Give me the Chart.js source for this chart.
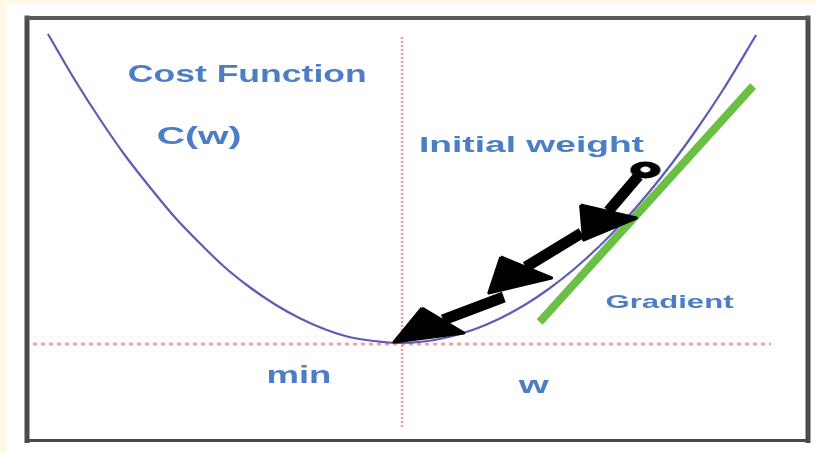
<!DOCTYPE html>
<html><head><meta charset="utf-8">
<script src="https://cdn.jsdelivr.net/npm/chart.js@4.4.0/dist/chart.umd.min.js"></script>
<style>html,body{margin:0;padding:0;background:#fdf9e5;}#wrap{position:relative;width:816px;height:453px;}#c{filter:blur(0.45px);}</style>
</head><body><div id="wrap"><canvas id="c"></canvas></div>
<script>
// Cost function C(w) (w: weight, C: cost)
const curveW = [-3.52,-3.25,-3.0,-2.75,-2.5,-2.25,-2.0,-1.75,-1.5,-1.25,-1.0,-0.75,-0.5,-0.25,0,0.25,0.5,0.75,1.0,1.25,1.5,1.75,2.0,2.25,2.5,2.75,3.0,3.25,3.58];
const curveC = [3.09,2.63,2.24,1.88,1.56,1.26,1.00,0.76,0.56,0.39,0.25,0.14,0.06,0.02,0,0.015,0.06,0.135,0.24,0.375,0.54,0.735,0.96,1.215,1.50,1.815,2.16,2.535,3.08];
// Red dotted reference lines (vertical at the minimum, horizontal at min cost)
const vLineW = [0.03, 0.03];
const vLineC = [3.06, -0.85];
const hLineW = [-3.67, 3.73];
const hLineC = [-0.01, -0.01];
// Green gradient (tangent) line
const gradW = [1.41, 3.55];
const gradC = [0.21, 2.57];
// Initial weight
const initW = [2.47];
const initC = [1.73];
// Gradient descent steps: arrow shafts
const shaftStartW = [2.40, 1.83, 1.05];
const shaftStartC = [1.67, 1.10, 0.46];
const shaftEndW = [2.10, 1.27, 0.44];
const shaftEndC = [1.32, 0.76, 0.23];
// Arrow heads (triangle corners)
const headW = [[1.82, 2.38, 1.85], [1.02, 1.53, 0.90], [0.23, 0.65, -0.05]];
const headC = [[1.38, 1.25, 1.03], [0.86, 0.65, 0.50], [0.35, 0.10, 0.01]];
// Text labels
const labelText = ['Cost Function', 'C(w)', 'Initial weight', 'Gradient', 'min', 'w'];
const labelW = [-2.72, -2.43, 0.20, 2.07, -1.33, 1.20];
const labelC = [2.61, 1.99, 1.91, 0.35, -0.40, -0.50];

const labelStyle = [
  {size: 24, width: 239}, {size: 24, width: 85}, {size: 22, width: 225},
  {size: 19, width: 128}, {size: 23, width: 65}, {size: 24, width: 30}
];

const pts = (ws, cs) => ws.map((w, i) => ({x: w, y: cs[i]}));

// ellipse marker for initial weight
const marker = document.createElement('canvas');
marker.width = 34; marker.height = 20;
(function(){
  const m = marker.getContext('2d');
  m.fillStyle = '#000';
  m.beginPath(); m.ellipse(17, 10, 15, 8.5, 0, 0, Math.PI * 2); m.fill();
  m.fillStyle = '#fff';
  m.beginPath(); m.ellipse(17, 9.5, 5, 3, 0, 0, Math.PI * 2); m.fill();
})();

const datasets = [];
datasets.push({label: 'C(w)', data: pts(curveW, curveC), showLine: true, borderColor: '#5a5db6', borderWidth: 2.2, pointRadius: 0, cubicInterpolationMode: 'monotone', order: 5});
datasets.push({label: 'vline', data: pts(vLineW, vLineC), showLine: true, borderColor: '#f39a9a', borderWidth: 2.5, borderDash: [2, 2], pointRadius: 0, order: 8});
datasets.push({label: 'hline', data: pts(hLineW, hLineC), showLine: true, borderColor: '#f39a9a', borderWidth: 2.5, borderDash: [4, 4], pointRadius: 0, order: 8});
datasets.push({label: 'gradient', data: pts(gradW, gradC), showLine: true, borderColor: '#6bbf45', borderWidth: 8, borderCapStyle: 'butt', pointRadius: 0, order: 6});
for (let i = 0; i < 3; i++) {
  datasets.push({label: 'step' + i, data: [{x: shaftStartW[i], y: shaftStartC[i]}, {x: shaftEndW[i], y: shaftEndC[i]}], showLine: true, borderColor: '#000', borderWidth: 11, borderCapStyle: 'butt', pointRadius: 0, order: 2});
  const h = pts(headW[i], headC[i]);
  h.push(h[0]);
  datasets.push({label: 'head' + i, data: h, showLine: true, borderColor: '#000', backgroundColor: '#000', borderWidth: 3, borderJoinStyle: 'round', fill: 'shape', pointRadius: 0, tension: 0, order: 1});
}
datasets.push({label: 'init', data: pts(initW, initC), showLine: false, pointStyle: marker, pointRadius: 10, order: 0});

const decor = {
  id: 'decor',
  beforeDraw(chart) {
    const ctx = chart.ctx;
    ctx.save();
    ctx.fillStyle = '#fdf9e5';
    ctx.fillRect(0, 0, chart.width, chart.height);
    ctx.fillStyle = '#ffffff';
    ctx.fillRect(6, 4, chart.width - 6, chart.height - 4);
    ctx.restore();
  },
  afterDatasetsDraw(chart) {
    const ctx = chart.ctx, a = chart.chartArea;
    const xs = chart.scales.x, ys = chart.scales.y;
    ctx.save();
    ctx.fillStyle = '#4c7ec6';
    ctx.textBaseline = 'alphabetic';
    ctx.textAlign = 'left';
    labelText.forEach((t, i) => {
      const st = labelStyle[i];
      ctx.font = 'bold ' + st.size + 'px "Liberation Sans", Arial, sans-serif';
      const mw = ctx.measureText(t).width;
      const sx = st.width / mw;
      ctx.save();
      ctx.translate(xs.getPixelForValue(labelW[i]), ys.getPixelForValue(labelC[i]));
      ctx.scale(sx, 1);
      ctx.fillText(t, 0, 0);
      ctx.restore();
    });
    // frame
    ctx.strokeStyle = '#4a4a4a';
    ctx.lineCap = 'square';
    ctx.lineWidth = 5;
    ctx.beginPath(); ctx.moveTo(a.left - 3, a.top - 2); ctx.lineTo(a.left - 3, a.bottom + 1.5); ctx.stroke();
    ctx.beginPath(); ctx.moveTo(a.right + 3, a.top - 2); ctx.lineTo(a.right + 3, a.bottom + 1.5); ctx.stroke();
    ctx.strokeStyle = '#5a5a5a';
    ctx.lineWidth = 4;
    ctx.beginPath(); ctx.moveTo(a.left - 3, a.top - 2); ctx.lineTo(a.right + 3, a.top - 2); ctx.stroke();
    ctx.strokeStyle = '#4a4a4a';
    ctx.lineWidth = 3;
    ctx.beginPath(); ctx.moveTo(a.left - 3, a.bottom + 1.5); ctx.lineTo(a.right + 3, a.bottom + 1.5); ctx.stroke();
    ctx.restore();
  }
};

new Chart(document.getElementById('c'), {
  type: 'scatter',
  data: {datasets},
  options: {
    responsive: true,
    maintainAspectRatio: false,
    animation: false,
    devicePixelRatio: 1,
    layout: {padding: {left: 30, right: 9, top: 20, bottom: 14}},
    scales: {
      x: {type: 'linear', min: -3.70, max: 4.07, display: false},
      y: {type: 'linear', min: -0.96, max: 3.23, display: false}
    },
    plugins: {legend: {display: false}, tooltip: {enabled: false}}
  },
  plugins: [decor]
});
</script>
</body></html>
